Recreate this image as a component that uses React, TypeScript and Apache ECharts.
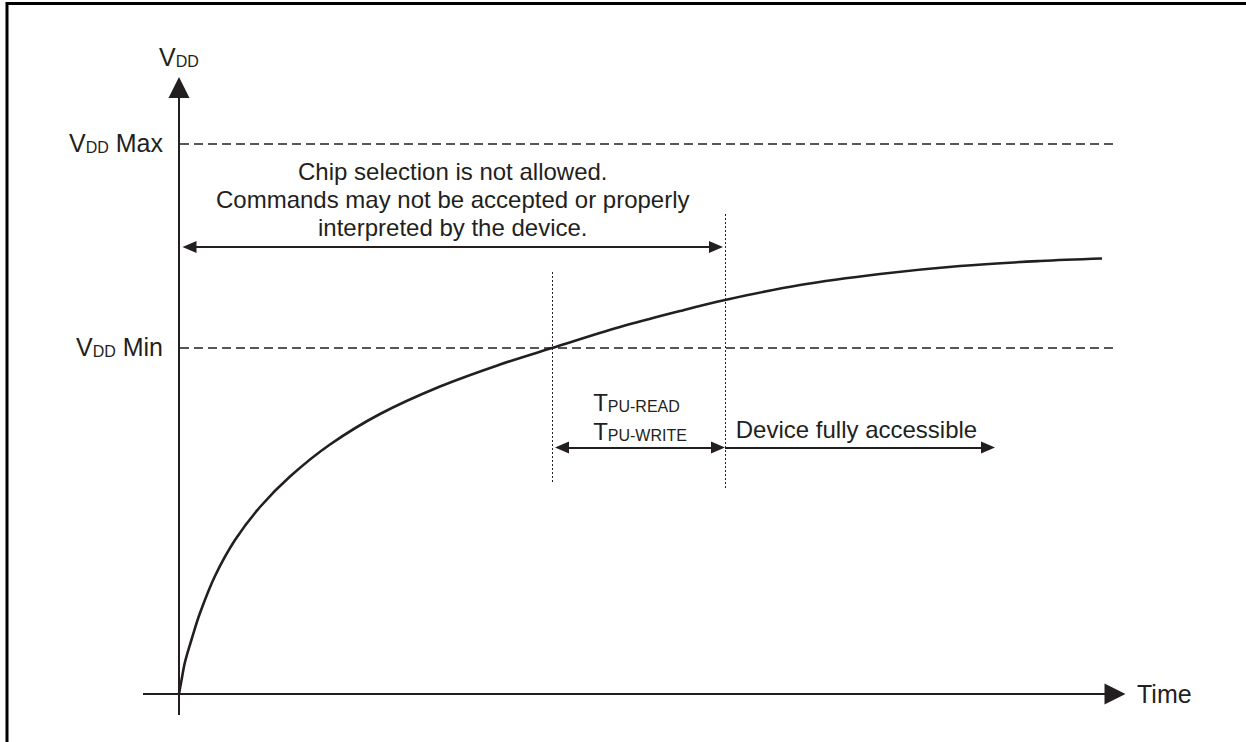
import React, { useEffect, useRef } from 'react';
import * as echarts from 'echarts';

const INK = '#231f20';
const FONT = '"Liberation Sans", Arial, Helvetica, sans-serif';

// Supply voltage ramp (time, VDD) in chart units
const curveTime = [0, 0.2, 0.6, 1.3, 2.1, 3.6, 5.6, 8.1, 11.1, 15.1, 20.1, 26.1, 32.1, 37.3, 44.1, 50.1, 54.6, 62.1, 70.1, 78.1, 86.1, 92.3];
const curveVdd = [0, 2.2, 6.4, 11.2, 16.2, 23.6, 30.8, 37.4, 43.5, 49.9, 56.0, 61.5, 65.9, 69.2, 73.4, 76.6, 78.8, 81.8, 84.0, 85.6, 86.6, 87.1];

// VDD levels (dashed)
const levelNames = ['Max', 'Min'];
const levelValues = [110, 69.2];
const levelStart = 0.1;
const levelEnd = 93.6;

// Axes extents
const timeAxisExtent = [-3.6, 93.6];
const vddAxisExtent = [-4.2, 121.3];

// Dotted markers
const markerTimes = [37.3, 54.6];
const markerLow = [42.4, 41.2];
const markerHigh = [84.8, 96.2];

// Arrows
const notAllowedSpan = [1.05, 53.7];
const notAllowedLevel = 89.4;
const powerUpSpan = [38.3, 53.9];
const accessibleSpan = [54.6, 80.9];
const timingLevel = 49.3;

// Texts
const notAllowedText = ['Chip selection is not allowed.', 'Commands may not be accepted or properly', 'interpreted by the device.'];
const timingNames = ['PU-READ', 'PU-WRITE'];
const accessibleText = 'Device fully accessible';
const timeLabel = 'Time';

export default function App() {
  const ref = useRef<HTMLDivElement>(null);
  useEffect(() => {
    if (!ref.current) return;
    const chart = echarts.init(ref.current, undefined, { renderer: 'svg' });
    const rich = {
      v: { fontSize: 25, fontFamily: FONT, color: INK, verticalAlign: 'bottom', lineHeight: 28 },
      d: { fontSize: 16, fontFamily: FONT, color: INK, verticalAlign: 'bottom', lineHeight: 28 },
      t: { fontSize: 24, fontFamily: FONT, color: INK, verticalAlign: 'bottom', lineHeight: 29, align: 'left' },
      s: { fontSize: 16, fontFamily: FONT, color: INK, verticalAlign: 'bottom', lineHeight: 29, align: 'left' },
    };
    const option: any = {
      animation: false,
      backgroundColor: '#fff',
      grid: { left: 139, right: 107, top: 74, bottom: 18 },
      xAxis: { type: 'value', min: -4, max: 96, show: false },
      yAxis: { type: 'value', min: -6, max: 124, show: false },
      graphic: [
        {
          type: 'rect',
          shape: { x: 7, y: 3.5, width: 1400, height: 900 },
          style: { fill: 'none', stroke: '#000', lineWidth: 3 },
          silent: true,
        },
      ],
      series: [
        {
          name: 'VDD',
          type: 'line',
          data: curveTime.map((t, i) => [t, curveVdd[i]]),
          smooth: 0.35,
          showSymbol: false,
          symbol: 'none',
          silent: true,
          lineStyle: { color: INK, width: 2.6 },
          z: 3,
        },
        {
          type: 'line',
          data: [],
          markLine: {
            silent: true,
            animation: false,
            symbol: ['none', 'triangle'],
            symbolSize: [21, 21],
            itemStyle: { color: INK },
            lineStyle: { color: INK, width: 2, type: 'solid' },
            emphasis: { disabled: true },
            label: { show: true, color: INK, fontFamily: FONT, rich },
            data: [
              [
                { coord: [timeAxisExtent[0], 0], label: { formatter: timeLabel, position: 'end', distance: 22, fontSize: 25 } },
                { coord: [timeAxisExtent[1], 0] },
              ],
              [
                { coord: [0, vddAxisExtent[0]], label: { formatter: '{v|V}{d|DD}', position: 'end', distance: 18 } },
                { coord: [0, vddAxisExtent[1]] },
              ],
            ],
          },
        },
        {
          type: 'line',
          data: [],
          markLine: {
            silent: true,
            animation: false,
            symbol: ['none', 'none'],
            lineStyle: { color: INK, width: 1.6, type: [9, 5] },
            emphasis: { disabled: true },
            label: { show: true, position: 'start', distance: 17, padding: [0, 0, 6, 0], color: INK, fontFamily: FONT, rich },
            data: levelNames.map((n, i) => [
              { coord: [levelStart, levelValues[i]], label: { formatter: `{v|V}{d|DD}{v| ${n}}` } },
              { coord: [levelEnd, levelValues[i]] },
            ]),
          },
        },
        {
          type: 'line',
          data: [],
          markLine: {
            silent: true,
            animation: false,
            symbol: ['none', 'none'],
            lineStyle: { color: INK, width: 1, type: [2, 2] },
            emphasis: { disabled: true },
            label: { show: false },
            data: markerTimes.map((t, i) => [{ coord: [t, markerLow[i]] }, { coord: [t, markerHigh[i]] }]),
          },
        },
        {
          type: 'line',
          data: [],
          markLine: {
            silent: true,
            animation: false,
            symbol: ['triangle', 'triangle'],
            symbolSize: [12, 14],
            itemStyle: { color: INK },
            lineStyle: { color: INK, width: 2, type: 'solid' },
            emphasis: { disabled: true },
            label: { show: true, position: 'insideMiddleTop', color: INK, fontFamily: FONT, fontSize: 24, lineHeight: 28, rich },
            data: [
              [
                { coord: [notAllowedSpan[0], notAllowedLevel], label: { formatter: notAllowedText.join('\n'), distance: 6 } },
                { coord: [notAllowedSpan[1], notAllowedLevel] },
              ],
              [
                { coord: [powerUpSpan[0], timingLevel], label: { formatter: timingNames.map((n) => `{t|T}{s|${n}}`).join('\n'), distance: 4 } },
                { coord: [powerUpSpan[1], timingLevel] },
              ],
            ],
          },
        },
        {
          type: 'line',
          data: [],
          markLine: {
            silent: true,
            animation: false,
            symbol: ['none', 'triangle'],
            symbolSize: [12, 14],
            itemStyle: { color: INK },
            lineStyle: { color: INK, width: 2, type: 'solid' },
            emphasis: { disabled: true },
            label: { show: true, position: 'insideMiddleTop', color: INK, fontFamily: FONT, fontSize: 24, lineHeight: 28, distance: 4 },
            data: [
              [
                { coord: [accessibleSpan[0], timingLevel], label: { formatter: accessibleText } },
                { coord: [accessibleSpan[1], timingLevel] },
              ],
            ],
          },
        },
      ],
    };
    chart.setOption(option);
    return () => chart.dispose();
  }, []);
  return (
    <div
      ref={ref}
      style={{ position: 'fixed', left: 0, top: 0, width: 1246, height: 742, background: '#fff' }}
    />
  );
}
